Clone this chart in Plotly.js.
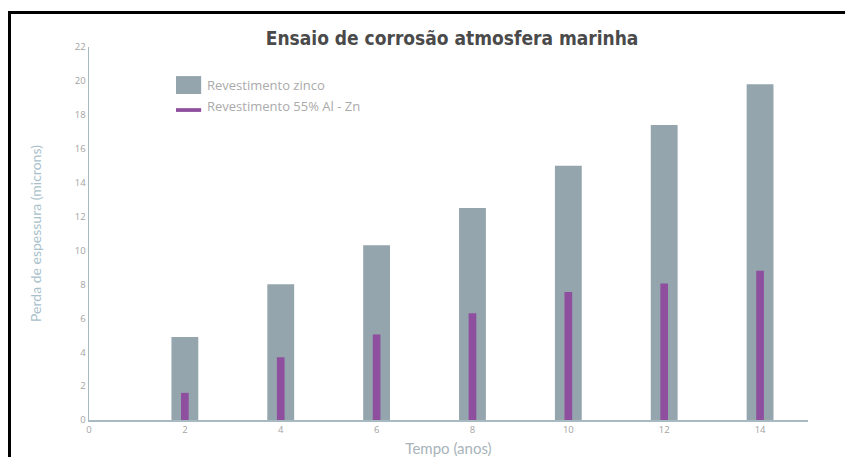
<!DOCTYPE html>
<html>
<head>
<meta charset="utf-8">
<script src="https://cdn.plot.ly/plotly-3.0.1.min.js"></script>
<style>
html,body{margin:0;padding:0;width:845px;height:457px;overflow:hidden;background:#fff;}
#frame{position:absolute;left:8px;top:11px;width:900px;height:500px;border:3px solid #000;box-sizing:border-box;}
#chart{position:absolute;left:0;top:0;width:845px;height:457px;}
</style>
</head>
<body>
<div id="frame"></div>
<div id="chart"></div>
<script>
const years = [2, 4, 6, 8, 10, 12, 14];
const zinco = [4.9, 8.0, 10.3, 12.5, 15.0, 17.4, 19.8];
const alZn = [1.6, 3.7, 5.05, 6.3, 7.55, 8.05, 8.8];
const seriesNames = ['Revestimento zinco', 'Revestimento 55% Al - Zn'];
const yTicks = [0, 2, 4, 6, 8, 10, 12, 14, 16, 18, 20, 22];
const xTicks = [0, 2, 4, 6, 8, 10, 12, 14];

const gray = '#95a5ad';
const purple = '#8e4f9e';
const axisCol = '#a9b9c1';
const tickFont = {family: 'Open Sans, sans-serif', size: 9.5, color: '#a3a3a3'};

const traces = [
  {type: 'bar', x: years, y: zinco, name: seriesNames[0], width: 0.56,
   marker: {color: gray, line: {width: 0}}, showlegend: false, hoverinfo: 'x+y'},
  {type: 'bar', x: years, y: alZn, name: seriesNames[1], width: 0.16,
   marker: {color: purple, line: {width: 0}}, showlegend: false, hoverinfo: 'x+y'}
];

const layout = {
  width: 845, height: 457,
  margin: {l: 89, r: 37, t: 47, b: 37},
  paper_bgcolor: 'rgba(0,0,0,0)',
  plot_bgcolor: 'rgba(0,0,0,0)',
  barmode: 'overlay',
  showlegend: false,
  title: {text: '<b>Ensaio de corrosão atmosfera marinha</b>',
          font: {family: 'DejaVu Sans Condensed, sans-serif', size: 19, color: '#4a4a4a'},
          x: 0.535, xanchor: 'center', y: 0.915, yanchor: 'middle'},
  xaxis: {range: [0, 15], tickvals: xTicks, ticktext: xTicks.map(String),
          showgrid: false, zeroline: false, showline: true, linecolor: axisCol, linewidth: 1.5,
          ticks: '', tickfont: tickFont,
          title: {text: 'Tempo (anos)', font: {family: 'Lato, sans-serif', size: 15, color: '#a8b3ba'}, standoff: 10},
          fixedrange: true},
  yaxis: {range: [0, 22], tickvals: yTicks, ticktext: yTicks.map(String),
          showgrid: false, zeroline: false, showline: true, linecolor: axisCol, linewidth: 1.5,
          ticks: '', tickfont: tickFont,
          title: {text: 'Perda de espessura (microns)', font: {family: 'Lato, sans-serif', size: 14, color: '#a9bfcb'}, standoff: 30},
          fixedrange: true},
  shapes: [
    {type: 'rect', xref: 'paper', yref: 'paper', x0: 0.121, x1: 0.156, y0: 0.874, y1: 0.922,
     fillcolor: gray, line: {width: 0}},
    {type: 'rect', xref: 'paper', yref: 'paper', x0: 0.121, x1: 0.156, y0: 0.826, y1: 0.836,
     fillcolor: purple, line: {width: 0}}
  ],
  annotations: [
    {xref: 'paper', yref: 'paper', x: 0.162, y: 0.898, xanchor: 'left', yanchor: 'middle',
     text: seriesNames[0], showarrow: false, font: {family: 'Open Sans, sans-serif', size: 13, color: '#aaaaaa'}},
    {xref: 'paper', yref: 'paper', x: 0.162, y: 0.843, xanchor: 'left', yanchor: 'middle',
     text: seriesNames[1], showarrow: false, font: {family: 'Open Sans, sans-serif', size: 13, color: '#aaaaaa'}}
  ]
};

Plotly.newPlot('chart', traces, layout, {displayModeBar: false, staticPlot: true});
</script>
</body>
</html>
